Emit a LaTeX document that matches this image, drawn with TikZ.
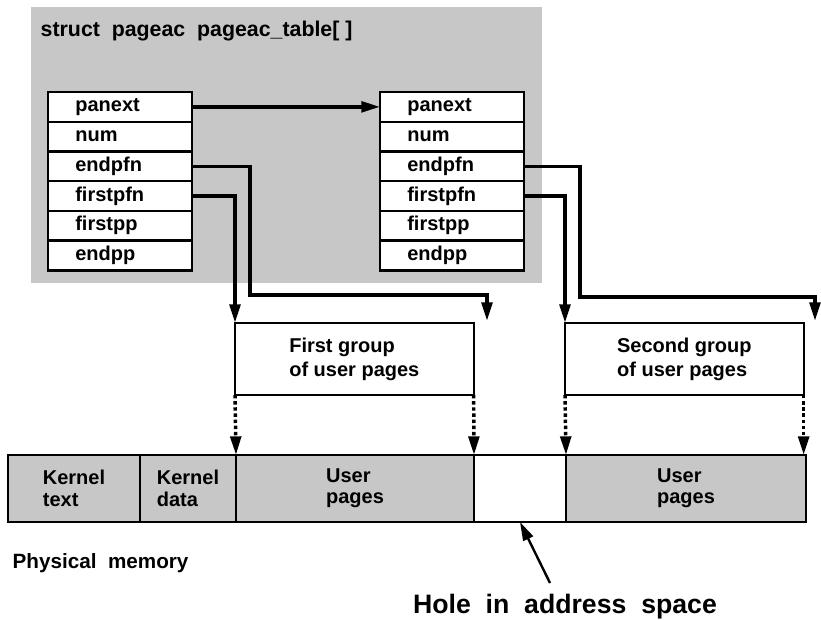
\documentclass[tikz,border=0pt]{standalone}
\usepackage{fontspec}
\setmainfont{Liberation Sans}
\usetikzlibrary{positioning,arrows.meta}

\definecolor{screen}{gray}{0.78}

\begin{document}
\begin{tikzpicture}[
  x = 0.75pt, y = -0.75pt,
  field/.style = {draw, fill=white, line width=1.8pt, outer sep=0pt,
    text width=67pt, inner xsep=20.5pt, minimum height=22.3pt, align=left,
    font=\fontsize{15}{17}\selectfont\bfseries},
  group/.style = {draw, line width=1.4pt, outer sep=0pt, anchor=north west,
    minimum width=179pt, minimum height=54pt, align=left,
    font=\fontsize{15}{18}\selectfont\bfseries},
  cell/.style = {draw, fill=screen, line width=1.6pt, outer sep=0pt, inner sep=0pt,
    minimum height=50.25pt, align=left,
    font=\fontsize{15}{16}\selectfont\bfseries},
  ptr/.style = {line width=2.6pt, -{Triangle[length=14pt,width=8pt]}},
  dotptr/.style = {ptr, dotted}]
\useasboundingbox (0,0) rectangle (821,620);

% the pageac_table
\fill[screen] (31,7) rectangle (542,283);
\node[anchor=west, font=\fontsize{16}{18}\selectfont\bfseries] (title) at (36,31) {struct\ \ pageac\ \ pageac\_table[ ]};

\node[field, anchor=north west] (L1) at (48,92) {panext};
\node[field, below=0pt of L1] (L2) {num};
\node[field, below=0pt of L2] (L3) {endpfn};
\node[field, below=0pt of L3] (L4) {firstpfn};
\node[field, below=0pt of L4] (L5) {firstpp};
\node[field, below=0pt of L5] (L6) {endpp};

\node[field, anchor=north west] (R1) at (380,92) {panext};
\node[field, below=0pt of R1] (R2) {num};
\node[field, below=0pt of R2] (R3) {endpfn};
\node[field, below=0pt of R3] (R4) {firstpfn};
\node[field, below=0pt of R4] (R5) {firstpp};
\node[field, below=0pt of R5] (R6) {endpp};

% groups of user pages
\node[group] (firstGroup) at (235,323) {First group\\of user pages};
\node[group] (secondGroup) at (565,323) {Second group\\of user pages};

% physical memory
\node[cell, minimum width=99pt, anchor=north west] (ktext) at (8,455) {Kernel\\text};
\node[cell, minimum width=72pt, right=0pt of ktext] (kdata) {Kernel\\data};
\node[cell, minimum width=178.5pt, right=0pt of kdata] (user1) {User\\pages};
\node[cell, minimum width=69pt, fill=white, right=0pt of user1] (hole) {};
\node[cell, minimum width=180pt, right=0pt of hole] (user2) {User\\pages};

\node[anchor=west, font=\fontsize{15.5}{17}\selectfont\bfseries] (physmem) at (8,563) {Physical\ \ memory};
\node[font=\fontsize{20}{22}\selectfont\bfseries] (holeText) at (565,607) {Hole\ \ in\ \ address\ \ space};

\coordinate (firstEnd) at (487,321);
\coordinate (secondEnd) at (815,321);
\coordinate (holeTail) at (550,583);

% pointers
\draw[ptr] (L1.east) -- (R1.west);
\draw[ptr] (L4.east) -| (firstGroup.north west);
\draw[ptr] (L3.east) -| (250,295) -| (firstEnd);
\draw[ptr] (R4.east) -| (secondGroup.north west);
\draw[ptr] (R3.east) -| (580,297) -| (secondEnd);

\draw[dotptr] (firstGroup.south west) -- (user1.north west);
\draw[dotptr] (firstGroup.south east) -- (hole.north west);
\draw[dotptr] (secondGroup.south west) -- (user2.north west);
\draw[dotptr] (secondGroup.south east) -- (secondGroup.south east |- user2.north);

\draw[ptr, line width=1.8pt] (holeTail) -- (hole.south);
\end{tikzpicture}
\end{document}
